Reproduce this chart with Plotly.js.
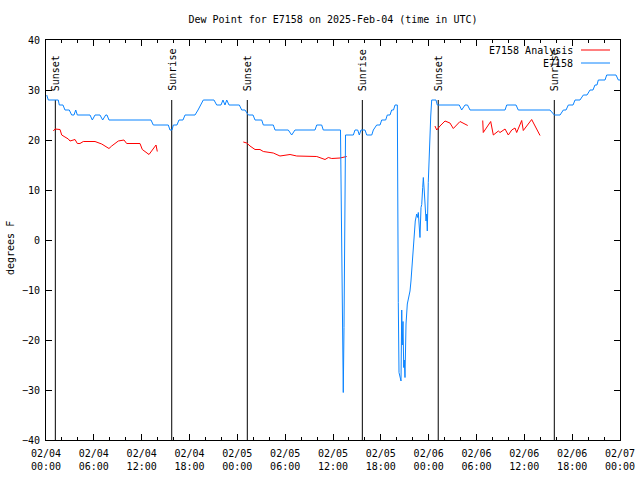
<!DOCTYPE html>
<html>
<head>
<meta charset="utf-8">
<script src="https://cdn.plot.ly/plotly-3.0.1.min.js"></script>
<style>html,body{margin:0;padding:0;background:#fff;}#chart{width:640px;height:480px;}</style>
</head>
<body>
<div id="chart"></div>
<script>
// Hours since 2025-02-04 00:00 UTC and dew point (F)
const obsName = "E7158";
const obsHours = [0.09,0.29,1.54,1.67,2.13,2.38,2.92,3.22,3.51,3.73,3.93,5.52,5.81,6.15,6.77,7.11,7.49,7.65,7.90,13.17,13.46,15.34,15.55,15.81,15.97,16.43,16.68,17.18,17.44,18.69,19.07,19.38,19.73,21.07,21.41,21.95,22.20,22.45,22.67,22.96,24.25,24.55,24.96,25.38,25.97,26.22,27.06,27.26,28.51,28.73,30.39,30.82,31.23,33.74,33.96,34.58,34.78,36.94,37.00,37.10,37.17,37.22,37.29,37.38,37.47,37.57,38.55,38.76,39.10,39.30,39.51,40.01,40.23,40.86,41.06,41.48,41.90,42.11,42.61,42.81,43.15,43.36,43.59,43.78,44.07,44.09,44.19,44.28,44.40,44.53,44.62,44.69,44.78,44.87,44.94,45.03,45.16,45.32,45.53,45.66,45.78,45.95,46.07,46.20,46.32,46.50,46.63,46.70,46.83,46.91,47.04,47.13,47.25,47.33,47.45,47.58,47.67,47.75,47.83,47.95,48.08,48.26,48.38,48.92,49.08,51.84,52.14,52.56,52.87,53.19,57.58,57.79,58.96,59.24,63.22,63.76,64.48,64.89,65.23,65.52,66.11,66.36,66.98,67.40,67.86,68.24,68.61,68.86,69.11,69.28,70.12,70.33,71.50,71.79,72.00];
const obsDew = [29,28,28,27,27,26,26,25,25,26,25,25,24,25,25,24,25,25,24,24,23,23,22,22,23,23,24,24,25,25,26,27,28,28,27,27,28,27,28,27,27,26,26,25,25,24,24,23,23,22,22,21,22,22,23,23,22,22,13.5,-4,-21.5,-18,-30.5,-17.5,8,21,21,22,22,21,22,22,21,21,22,23,23,24,24,25,25,26,26,27,27,13.8,-12.5,-26.5,-27.5,-28.2,-14,-21,-16.3,-25.5,-24,-27.5,-16.8,-12.8,-11.5,-10.2,-8.2,-4.8,-1.5,1.8,3.8,5.2,4.5,5.5,2.5,0.5,6.5,7.1,10.5,12.5,9.8,6.5,3.8,5.2,1.8,11.5,18.5,24.8,28,28,27,27,26,27,27,26,26,27,27,26,26,25,25,26,26,27,27,28,28,29,29,30,30,31,31,32,32,33,33,32,32];

const anaName = "E7158 Analysis";
const anaHours = [0.92,1.13,1.76,1.97,2.38,2.80,3.01,3.64,3.93,4.26,4.68,6.15,6.99,7.90,8.24,9.07,9.78,10.12,11.79,12.08,12.92,13.80,13.96,null,
  24.75,25.18,25.59,26.22,26.84,27.26,28.51,29.35,30.61,31.45,33.96,35.00,35.41,35.84,36.88,37.72,null,
  48.79,49.01,49.42,50.05,50.67,51.09,51.93,52.34,52.90,null,
  54.78,54.85,55.78,56.11,56.74,56.95,57.58,57.99,58.42,58.83,59.04,59.67,59.87,60.92,61.97];
const anaDew = [21.8,22.2,22.1,21,20.6,20.2,19.8,20.1,19.3,19.3,19.7,19.7,19.2,18.3,18.8,19.8,20,19.3,19.3,18.1,17.1,19,17.7,null,
  19.6,19.4,18.8,18.1,18.1,17.7,17.4,16.8,17.1,16.8,16.7,16.1,16.5,16.3,16.4,16.7,null,
  22.8,22,22.8,23.8,23.4,22.3,23.7,23.4,22.9,null,
  23.9,21.5,23.7,21,21.8,21.5,22.2,21,22,22.4,21.5,23.9,21.9,24.1,20.9];

const sunHours = [1.17,15.77,25.25,39.68,49.2,63.76];
const sunLabels = ["Sunset","Sunrise","Sunset","Sunrise","Sunset","Sunrise"];
const sunLineTop = 28;

const yTickVals = [-40,-30,-20,-10,0,10,20,30,40];
const titleText = "Dew Point for E7158 on 2025-Feb-04 (time in UTC)";
const yTitle = "degrees F";

const base = Date.UTC(2025,1,4,0,0,0);
const toMs = h => h === null ? null : base + h*3600000;

const FONT = "DejaVu Sans Mono, Liberation Mono, monospace";
const RED = "#ff0000", BLUE = "#0a84ff";

const traces = [];
sunHours.forEach(h => {
  traces.push({x:[toMs(h),toMs(h)], y:[-40,sunLineTop], mode:"lines", type:"scatter",
    line:{color:"#000",width:1}, showlegend:false, hoverinfo:"skip"});
});
traces.push({x:anaHours.map(toMs), y:anaDew, name:anaName, mode:"lines", type:"scatter",
  line:{color:RED,width:1}, connectgaps:false, showlegend:false});
traces.push({x:obsHours.map(toMs), y:obsDew, name:obsName, mode:"lines", type:"scatter",
  line:{color:BLUE,width:1}, showlegend:false});

const annotations = sunHours.map((h,i) => ({
  x:toMs(h), y:29.4, xref:"x", yref:"y", text:sunLabels[i], showarrow:false,
  textangle:-90, xanchor:"center", yanchor:"bottom", font:{family:FONT,size:10,color:"#000"}
}));
// manual legend (gnuplot style: text then sample on right)
const legItems = [[anaName,RED,50],[obsName,BLUE,63]];
const shapes = [];
legItems.forEach(([t,c,py]) => {
  const yp = (440-py)/400;
  annotations.push({x:(575-46)/574, y:yp, xref:"paper", yref:"paper", text:t, showarrow:false,
    xanchor:"right", yanchor:"middle", font:{family:FONT,size:10,color:"#000"}});
  shapes.push({type:"line", xref:"paper", yref:"paper", x0:(581-46)/574, x1:(610-46)/574, y0:yp, y1:yp,
    line:{color:c,width:1}});
});
annotations.push({x:(10-46)/574, y:(440-248)/400, xref:"paper", yref:"paper", text:yTitle, showarrow:false, textangle:-90,
  xanchor:"center", yanchor:"middle", font:{family:FONT,size:10,color:"#000"}});

const layout = {
  width:640, height:480,
  margin:{l:46, r:20, t:40, b:40, pad:0},
  paper_bgcolor:"#fff", plot_bgcolor:"#fff",
  showlegend:false,
  font:{family:FONT, size:10, color:"#000"},
  title:{text:titleText, xref:"paper", x:0.5, xanchor:"center", yref:"container", y:1-19/480, yanchor:"middle",
    font:{family:FONT,size:10,color:"#000"}},
  xaxis:{type:"date", range:[base, base+72*3600000], dtick:6*3600000, tick0:base,
    tickformat:"%m/%d<br>%H:%M", ticks:"inside", ticklen:6, tickcolor:"#000", showline:true, linecolor:"#000",
    linewidth:1, mirror:"allticks", showgrid:false, zeroline:false, tickfont:{family:FONT,size:10,color:"#000"},
    ticklabelstandoff:4,
    minor:{dtick:2*3600000, ticks:"inside", ticklen:3, tickcolor:"#000", showgrid:false}, automargin:false},
  yaxis:{range:[-40,40], tickvals:yTickVals, ticks:"inside", ticklen:6, tickcolor:"#000", showline:true,
    linecolor:"#000", linewidth:1, mirror:"allticks", showgrid:false, zeroline:false,
    tickfont:{family:FONT,size:10,color:"#000"}, ticklabelstandoff:3, automargin:false},
  annotations:annotations,
  shapes:shapes
};
Plotly.newPlot("chart", traces, layout, {staticPlot:true, displayModeBar:false});
</script>
</body>
</html>
